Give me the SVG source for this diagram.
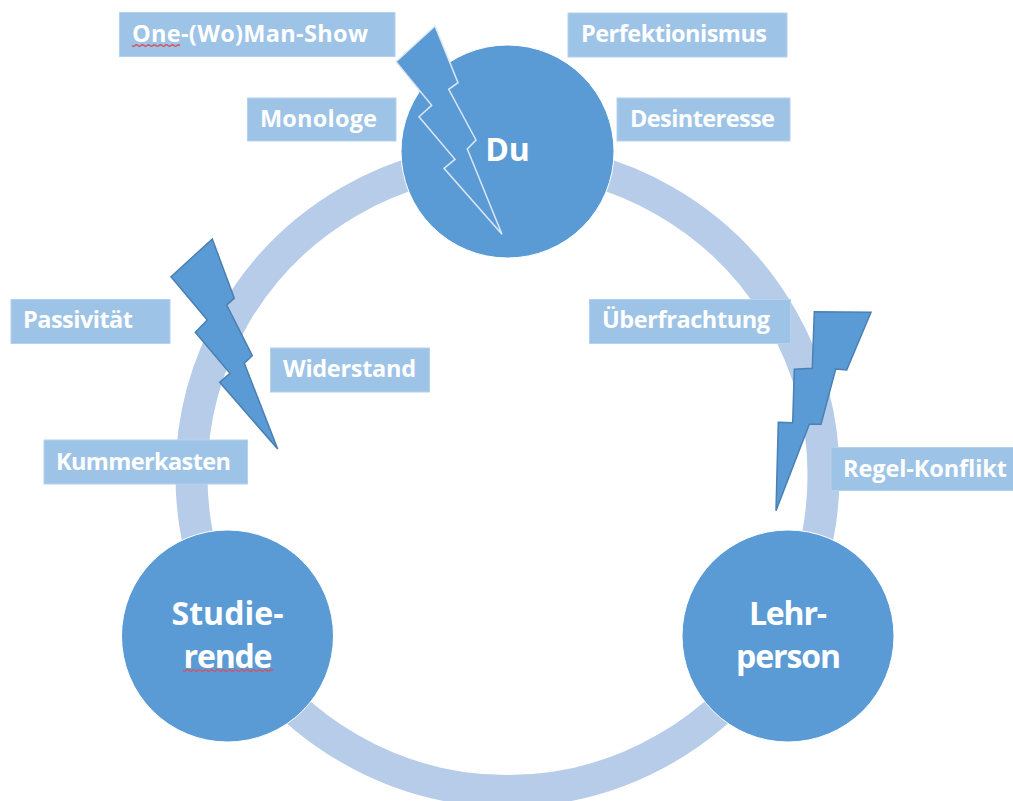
<svg xmlns="http://www.w3.org/2000/svg" width="1013" height="801" viewBox="0 0 1013 801">
<style>
.lab{fill:#9DC3E6;stroke:#B5D2EC;stroke-width:1}
.lt{font-family:"Open Sans","Noto Sans",sans-serif;font-weight:700;font-size:23.500px;fill:#fff}
.nc{fill:#5B9BD5;stroke:#fff;stroke-width:1}
.nt{font-family:"Open Sans","Noto Sans",sans-serif;font-weight:700;font-size:32px;fill:#fff;text-anchor:middle}
.bolt{fill:#5B9BD5;stroke-width:1.5;stroke-linejoin:miter}
.arc{fill:none;stroke:#B6CCE8;stroke-width:32}
.sq{fill:none;stroke:#D8505F;stroke-width:1.2}
</style>
<rect width="1013" height="801" fill="#fff"/>
<g id="connectors">
<path class="arc" d="M507.500 159A316 316 0 0 1 781.200 633"/>
<path class="arc" d="M781.200 633A316 316 0 0 1 233.800 633"/>
<path class="arc" d="M233.800 633A316 316 0 0 1 507.500 159"/>
</g>
<g id="node-du"><circle class="nc" cx="507.500" cy="151.500" r="106.500"/><text class="nt" x="507.500" y="161">Du</text></g>
<g id="node-studierende"><circle class="nc" cx="227.500" cy="636" r="106"/><text class="nt" x="227.500" y="625" textLength="112">Studie-</text><text class="nt" x="228" y="668" textLength="89">rende</text><path class="sq" d="M183 670.500q1.500 1.500 3 0t3 0 3 0 3 0 3 0 3 0 3 0 3 0 3 0 3 0 3 0 3 0 3 0 3 0 3 0 3 0 3 0 3 0 3 0 3 0 3 0 3 0 3 0 3 0 3 0 3 0 3 0 3 0 3 0 3 0"/></g>
<g id="node-lehrperson"><circle class="nc" cx="788" cy="636" r="106"/><text class="nt" x="788" y="625" textLength="78">Lehr-</text><text class="nt" x="788.500" y="668" textLength="105">person</text></g>
<g id="label-one"><rect class="lab" x="119.500" y="12.500" width="275.500" height="44"/><text class="lt" x="132" y="42" textLength="236">One-(Wo)Man-Show</text><path class="sq" d="M132 45.500q1.500 1.500 3 0t3 0 3 0 3 0 3 0 3 0 3 0 3 0 3 0 3 0 3 0 3 0 3 0 3 0 3 0 3 0"/></g>
<g id="label-monologe"><rect class="lab" x="247.500" y="98" width="148.500" height="43"/><text class="lt" x="260" y="127" textLength="117">Monologe</text></g>
<g id="label-perfektionismus"><rect class="lab" x="568" y="13" width="219" height="44"/><text class="lt" x="581" y="42" textLength="186">Perfektionismus</text></g>
<g id="label-desinteresse"><rect class="lab" x="617" y="98" width="173" height="43"/><text class="lt" x="630" y="127" textLength="145">Desinteresse</text></g>
<g id="label-passivitaet"><rect class="lab" x="11" y="299.500" width="159" height="44"/><text class="lt" x="23" y="328" textLength="110">Passivität</text></g>
<g id="label-widerstand"><rect class="lab" x="270.500" y="348" width="159" height="44"/><text class="lt" x="283" y="377" textLength="133">Widerstand</text></g>
<g id="label-kummerkasten"><rect class="lab" x="44" y="440" width="203.500" height="44"/><text class="lt" x="56" y="470" textLength="175">Kummerkasten</text></g>
<g id="label-ueberfrachtung"><rect class="lab" x="589.500" y="299.500" width="201" height="44"/><text class="lt" x="602" y="328" textLength="168">Überfrachtung</text></g>
<g id="label-regel"><rect class="lab" x="831" y="447.500" width="183" height="43"/><text class="lt" x="843" y="477" textLength="164">Regel-Konflikt</text></g>
<g id="bolt-du"><polygon class="bolt" stroke="#DCE8F5" points="435,26 458,82.700 448.700,89.300 476,140 467.300,149 502,234.300 444,168.300 455,159.300 419,116.700 431.700,105.300 396,61.700"/></g>
<g id="bolt-studierende"><polygon class="bolt" stroke="#4A7FB0" points="212.300,239 234.300,298.300 226.700,305 252.300,355.700 244.300,363.300 277.700,449 219.700,382.300 230,373.300 195.300,332.300 207.300,320 171,276.700"/></g>
<g id="bolt-lehrperson"><polygon class="bolt" stroke="#4A80B3" points="814.300,311.700 871,312.300 846.700,370 835.700,369 821,424.300 809.300,424.300 776,510.700 778.300,422.300 792.700,422.700 794.300,369.300 812.300,368.300"/></g>
</svg>
